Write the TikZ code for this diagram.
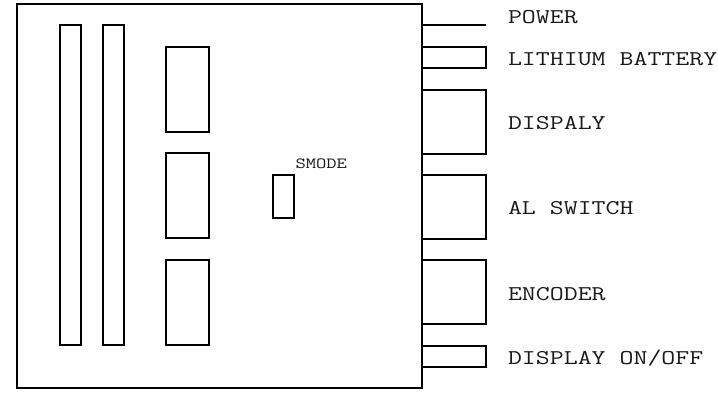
\documentclass[tikz,border=0pt]{standalone}
\usepackage{fontspec}
\setmonofont[FakeStretch=1.29]{Latin Modern Mono}
\usetikzlibrary{calc}
\begin{document}
\begin{tikzpicture}[x=1pt,y=-1pt]
       \tikzstyle{frame} = [rectangle, draw=black, line width=2pt, inner sep=0pt, outer sep=0pt, anchor=north west];
       \tikzstyle{label} = [inner sep=0pt, outer sep=0pt, anchor=base west, text=black!90, font=\ttfamily\fontsize{21}{21}\selectfont];
       \useasboundingbox (0,0) rectangle (718,392);
       \node[frame, minimum width=405pt, minimum height=384pt](board) at (17,4){};
       % sockets
       \node[frame, minimum width=21pt, minimum height=320pt](slotA) at (60,25){};
       \node[frame, minimum width=21pt, minimum height=320pt](slotB) at (103,25){};
       \node[frame, minimum width=43pt, minimum height=85pt](chipA) at (166,47){};
       \node[frame, minimum width=43pt, minimum height=85pt](chipB) at (166,153){};
       \node[frame, minimum width=43pt, minimum height=85pt](chipC) at (166,260){};
       \node[frame, minimum width=21pt, minimum height=43pt](smode) at (273,175){};
       \node[label, font=\ttfamily\fontsize{15.5}{15.5}\selectfont](smodetext) at (295.5,168.5){SMODE};
       % connectors on the right
       \coordinate (powerin) at (422,25);
       \coordinate (powerout) at (486,25);
       \draw[-, line width=2pt] (powerin) -- (powerout);
       \node[frame, minimum width=64.5pt, minimum height=21pt](battery) at (421.5,47){};
       \node[frame, minimum width=64.5pt, minimum height=64pt](display) at (421.5,90){};
       \node[frame, minimum width=64.5pt, minimum height=64pt](switch) at (421.5,175){};
       \node[frame, minimum width=64.5pt, minimum height=64pt](encoder) at (421.5,260){};
       \node[frame, minimum width=64.5pt, minimum height=21pt](onoff) at (421.5,346){};
       % names
       \node[label](powertext) at (508,23){POWER};
       \node[label](batterytext) at (508,65){LITHIUM BATTERY};
       \node[label](displaytext) at (508,129){DISPALY};
       \node[label](switchtext) at (508,214){AL SWITCH};
       \node[label](encodertext) at (508,300){ENCODER};
       \node[label](onofftext) at (508,364){DISPLAY ON/OFF};
     \end{tikzpicture}
\end{document}
